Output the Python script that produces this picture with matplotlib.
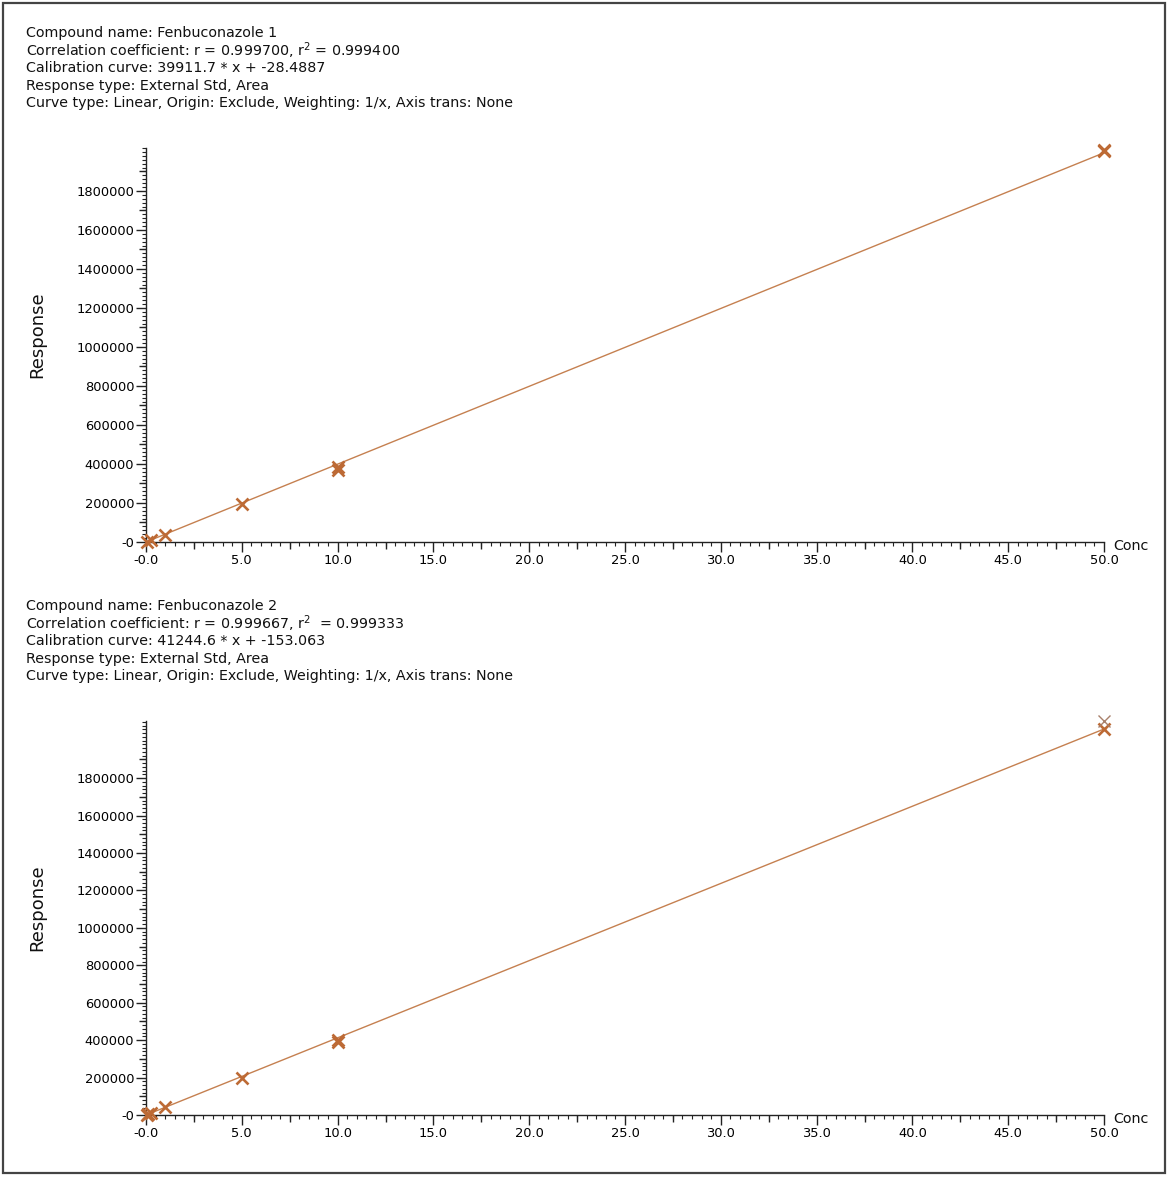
import numpy as np
import matplotlib
matplotlib.use("Agg")
import matplotlib.pyplot as plt
from matplotlib.patches import Rectangle
from matplotlib.ticker import FixedLocator, FixedFormatter, MultipleLocator

# ---------------- data ----------------
header1 = [
    "Compound name: Fenbuconazole 1",
    "Correlation coefficient: r = 0.999700, r$^{2}$ = 0.999400",
    "Calibration curve: 39911.7 * x + -28.4887",
    "Response type: External Std, Area",
    "Curve type: Linear, Origin: Exclude, Weighting: 1/x, Axis trans: None",
]
header2 = [
    "Compound name: Fenbuconazole 2",
    "Correlation coefficient: r = 0.999667, r$^{2}$  = 0.999333",
    "Calibration curve: 41244.6 * x + -153.063",
    "Response type: External Std, Area",
    "Curve type: Linear, Origin: Exclude, Weighting: 1/x, Axis trans: None",
]
slope1, intercept1 = 39911.7, -28.4887
slope2, intercept2 = 41244.6, -153.063

conc1 = [0.05, 0.25, 1.0, 5.0, 10.0, 10.0, 50.0, 50.0]
resp1 = [1500, 9000, 36000, 193000, 382000, 368000, 2012000, 2004000]

conc2 = [0.05, 0.1, 0.25, 1.0, 5.0, 10.0, 10.0, 50.0]
resp2 = [2000, 4000, 9000, 41000, 199000, 401000, 388000, 2062000]
conc2_excl = [50.0]
resp2_excl = [2106000]

xticks = [0, 5, 10, 15, 20, 25, 30, 35, 40, 45, 50]
xticklabels = ["-0.0", "5.0", "10.0", "15.0", "20.0", "25.0", "30.0",
               "35.0", "40.0", "45.0", "50.0"]
yticks = [0, 200000, 400000, 600000, 800000, 1000000, 1200000, 1400000,
          1600000, 1800000]
yticklabels = ["-0", "200000", "400000", "600000", "800000", "1000000",
               "1200000", "1400000", "1600000", "1800000"]
ymax1 = 2.02e6
ymax2 = 2.105e6

# ---------------- style ----------------
W, H = 1168, 1177
LINE_C = "#c58050"
MARK_C = "#bd6a35"
EXCL_C = "#a8806a"
FONT = "DejaVu Sans"

fig = plt.figure(figsize=(W / 100, H / 100), dpi=100)
fig.patch.set_facecolor("white")

def fx(px):
    return px / W

def fy(py):
    return 1 - py / H

fig.patches.append(Rectangle((fx(3), fy(1173)), fx(1165) - fx(3), fy(3) - fy(1173),
                             transform=fig.transFigure, fill=False,
                             edgecolor="#444444", lw=1.6))

def panel(header, header_top, ax_top, ax_bottom, conc, resp, slope, intercept,
          ymax, excl=None):
    for i, line in enumerate(header):
        fig.text(fx(26), fy(header_top + i * 17.6), line, fontsize=10.3,
                 family=FONT, va="center", ha="left", color="#111111")
    ax = fig.add_axes([fx(146), fy(ax_bottom), fx(1104) - fx(146),
                       fy(ax_top) - fy(ax_bottom)])
    ax.set_xlim(0, 50)
    ax.set_ylim(0, ymax)
    for s in ("top", "right"):
        ax.spines[s].set_visible(False)
    for s in ("left", "bottom"):
        ax.spines[s].set_linewidth(1.0)
        ax.spines[s].set_color("#222222")
    ax.xaxis.set_major_locator(FixedLocator(xticks))
    ax.xaxis.set_major_formatter(FixedFormatter(xticklabels))
    ax.xaxis.set_minor_locator(MultipleLocator(0.5))
    ax.yaxis.set_major_locator(FixedLocator(yticks))
    ax.yaxis.set_major_formatter(FixedFormatter(yticklabels))
    ax.yaxis.set_minor_locator(MultipleLocator(20000))
    ax.tick_params(axis="both", which="major", direction="out", length=7,
                   width=1.0, labelsize=9.4, color="#222222", pad=1.5)
    ax.tick_params(axis="both", which="minor", direction="out", length=3,
                   width=0.8, color="#222222")
    for lab in ax.get_xticklabels() + ax.get_yticklabels():
        lab.set_family(FONT)
    # medium ticks
    sx = ax.secondary_xaxis("bottom")
    sx.set_xticks([x + 2.5 for x in xticks[:-1]])
    sx.set_xticklabels([])
    sx.tick_params(direction="out", length=5, width=1.0, color="#222222")
    sx.spines["bottom"].set_visible(False)
    sy = ax.secondary_yaxis("left")
    sy.set_yticks([y + 100000 for y in yticks])
    sy.set_yticklabels([])
    sy.tick_params(direction="out", length=5, width=1.0, color="#222222")
    sy.spines["left"].set_visible(False)

    xs = np.array([0.0, 50.0])
    ax.plot(xs, slope * xs + intercept, color=LINE_C, lw=1.0, zorder=2,
            clip_on=False)
    ax.plot(conc, resp, ls="none", marker="x", ms=9, mew=1.9, color=MARK_C,
            zorder=3, clip_on=False)
    if excl is not None:
        ax.plot(excl[0], excl[1], ls="none", marker="x", ms=9, mew=1.0,
                color=EXCL_C, zorder=3, clip_on=False)
    fig.text(fx(1113), fy(ax_bottom + 4), "Conc", fontsize=10.3, family=FONT,
             va="center", ha="left", color="#111111")
    fig.text(fx(37), fy((ax_top + ax_bottom) / 2 - 10), "Response", fontsize=13,
             family=FONT, rotation=90, va="center", ha="center", color="#111111")
    return ax

panel(header1, 33, 148, 542, conc1, resp1, slope1, intercept1, ymax1)
panel(header2, 606, 721, 1115, conc2, resp2, slope2, intercept2, ymax2,
      excl=(conc2_excl, resp2_excl))

fig.savefig("out.png", dpi=100, facecolor="white")
